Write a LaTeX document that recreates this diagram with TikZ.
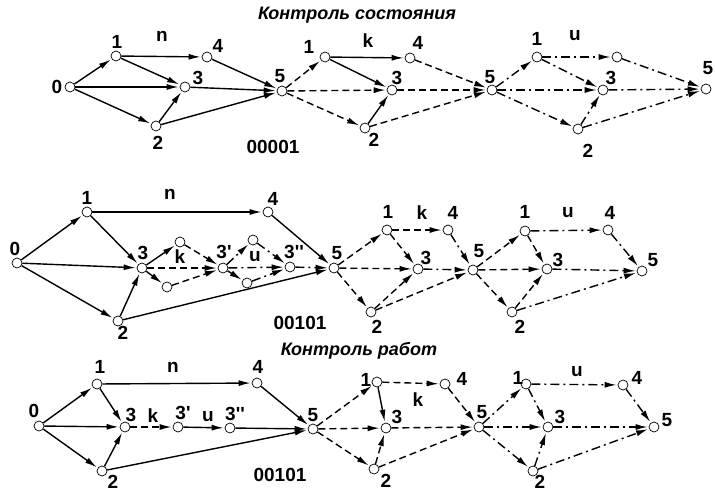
\documentclass[tikz,border=0pt]{standalone}
\usepackage{fontspec}
\setmainfont{Liberation Sans}
\usetikzlibrary{arrows.meta}
% straight prime mark, taken as a glyph so that no ligature mapping curls it
\newcommand{\pr}{\XeTeXglyph\XeTeXglyphindex "quotesingle" \relax}
\tikzset{
  nd/.style={circle,draw,fill=white,inner sep=0pt,minimum size=10pt,line width=0.7pt},
  lb/.style={font=\bfseries\fontsize{19}{19}\selectfont,inner sep=0pt},
  ttl/.style={font=\bfseries\itshape\fontsize{18}{18}\selectfont,inner sep=0pt},
  ed/.style={line width=1.4pt,-{Latex[length=12pt,width=6pt]},shorten >=1pt},
  ds/.style={ed,dash pattern=on 7pt off 4pt},
  dd/.style={ed,dash pattern=on 9pt off 4pt on 2pt off 4pt},
}
\begin{document}
\begin{tikzpicture}[x=1pt,y=-1pt]
\useasboundingbox (0,0) rectangle (715,493);

% ---------- titles ----------
\node[ttl] (t1) at (357,15) {Контроль состояния};
\node[ttl] (t2) at (359,351) {Контроль работ};

% ---------- row 1: state control ----------
\node[nd] (a0) at (70,87) {};
\node[nd] (a1) at (116,56) {};
\node[nd] (a4) at (207,57) {};
\node[nd] (a3) at (185,87) {};
\node[nd] (a2) at (156,126) {};
\node[nd] (a5) at (282,91) {};
\node[nd] (b1) at (325,57) {};
\node[nd] (b4) at (410,58) {};
\node[nd] (b3) at (392,90) {};
\node[nd] (b2) at (365,128) {};
\node[nd] (b5) at (492,90) {};
\node[nd] (c1) at (537,57) {};
\node[nd] (c4) at (617,57) {};
\node[nd] (c3) at (603,90) {};
\node[nd] (c2) at (578,129) {};
\node[nd] (c5) at (706,89) {};

\node[lb] (la0) at (57,87) {0};
\node[lb] (la1) at (117,42) {1};
\node[lb] (la4) at (218,46) {4};
\node[lb] (la3) at (198,78) {3};
\node[lb] (la2) at (158,143) {2};
\node[lb] (la5) at (280,76) {5};
\node[lb] (lan) at (162,36) {n};
\node[lb] (lac) at (273,147) {00001};
\node[lb] (lb1) at (309,47) {1};
\node[lb] (lb4) at (418,43) {4};
\node[lb] (lb3) at (397,78) {3};
\node[lb] (lb2) at (374,140) {2};
\node[lb] (lb5) at (490,77) {5};
\node[lb] (lbk) at (368,41) {k};
\node[lb] (lc1) at (537,39) {1};
\node[lb] (lc3) at (611,78) {3};
\node[lb] (lc2) at (588,151) {2};
\node[lb] (lc5) at (708,68) {5};
\node[lb] (lcu) at (575,36) {u};

\draw[ed] (a0)--(a1); \draw[ed] (a0)--(a3); \draw[ed] (a0)--(a2);
\draw[ed] (a1)--(a4); \draw[ed] (a1)--(a3); \draw[ed] (a2)--(a3);
\draw[ed] (a4)--(a5); \draw[ed] (a3)--(a5); \draw[ed] (a2)--(a5);
\draw[ds] (a5)--(b1); \draw[ds] (a5)--(b3); \draw[ds] (a5)--(b2);
\draw[ed] (b1)--(b4); \draw[ed] (b1)--(b3); \draw[ed] (b2)--(b3);
\draw[ds] (b4)--(b5); \draw[ds] (b3)--(b5); \draw[ds] (b2)--(b5);
\draw[dd] (b5)--(c1); \draw[dd] (b5)--(c3); \draw[dd] (b5)--(c2);
\draw[dd] (c1)--(c4); \draw[dd] (c1)--(c3); \draw[dd] (c2)--(c3);
\draw[dd] (c4)--(c5); \draw[dd] (c3)--(c5); \draw[dd] (c2)--(c5);

% ---------- row 2 ----------
\node[nd] (d0) at (17,263) {};
\node[nd] (d1) at (87,212) {};
\node[nd] (d4) at (268,212) {};
\node[nd] (d3) at (142,268) {};
\node[nd] (d2) at (118,321) {};
\node[nd] (d5) at (334,268) {};
\node[nd] (dx) at (180,242) {};
\node[nd] (dy) at (167,287) {};
\node[nd] (dp) at (223,268) {};
\node[nd] (dz) at (253,240) {};
\node[nd] (dw) at (247,283) {};
\node[nd] (dq) at (290,267) {};
\node[nd] (e1) at (387,230) {};
\node[nd] (e4) at (448,230) {};
\node[nd] (e3) at (418,269) {};
\node[nd] (e2) at (371,312) {};
\node[nd] (e5) at (473,270) {};
\node[nd] (f1) at (525,231) {};
\node[nd] (f4) at (608,230) {};
\node[nd] (f3) at (547,269) {};
\node[nd] (f2) at (512,312) {};
\node[nd] (f5) at (642,271) {};

\node[lb] (ld0) at (15,249) {0};
\node[lb] (ld1) at (87,198) {1};
\node[lb] (ld4) at (273,199) {4};
\node[lb] (ld3) at (143,253) {3};
\node[lb] (ld2) at (123,333) {2};
\node[lb] (ld5) at (337,253) {5};
\node[lb] (ldn) at (170,194) {n};
\node[lb] (ldp) at (224,252) {3\pr};
\node[lb] (ldk) at (180,257) {k};
\node[lb] (ldq) at (294,252) {3\pr\pr};
\node[lb] (ldu) at (255,257) {u};
\node[lb] (ldc) at (300,323) {00101};
\node[lb] (le1) at (388,212) {1};
\node[lb] (le4) at (453,213) {4};
\node[lb] (lek) at (422,213) {k};
\node[lb] (le3) at (426,258) {3};
\node[lb] (le2) at (377,327) {2};
\node[lb] (le5) at (479,251) {5};
\node[lb] (lf1) at (525,212) {1};
\node[lb] (lf4) at (610,213) {4};
\node[lb] (lfu) at (568,213) {u};
\node[lb] (lf3) at (558,260) {3};
\node[lb] (lf2) at (520,327) {2};
\node[lb] (lf5) at (653,260) {5};

\draw[ed] (d0)--(d1); \draw[ed] (d0)--(d3); \draw[ed] (d0)--(d2);
\draw[ed] (d1)--(d4); \draw[ed] (d1)--(d3); \draw[ed] (d2)--(d3);
\draw[ed] (d4)--(d5); \draw[ed] (d2)--(d5);
\draw[ed] (d3)--(dx); \draw[ed] (d3)--(dy);
\draw[ds] (dx)--(dp); \draw[ds] (dy)--(dp); \draw[ds] (d3)--(dp);
\draw[dd] (dp)--(dz); \draw[dd] (dp)--(dw);
\draw[dd] (dz)--(dq); \draw[dd] (dw)--(dq); \draw[dd] (dp)--(dq);
\draw[dd] (dq)--(d5);
\draw[ds] (d5)--(e1); \draw[ds] (d5)--(e3); \draw[ds] (d5)--(e2);
\draw[ds] (e1)--(e4); \draw[ds] (e1)--(e3); \draw[ds] (e2)--(e3);
\draw[dd] (e4)--(e5); \draw[dd] (e3)--(e5); \draw[ds] (e2)--(e5);
\draw[ds] (e5)--(f1); \draw[ds] (e5)--(f3); \draw[ds] (e5)--(f2);
\draw[ds] (f1)--(f3); \draw[ds] (f2)--(f3);
\draw[dd] (f1)--(f4); \draw[dd] (f4)--(f5); \draw[dd] (f3)--(f5); \draw[dd] (f2)--(f5);

% ---------- row 3: work control ----------
\node[nd] (g0) at (39,426) {};
\node[nd] (g1) at (97,384) {};
\node[nd] (g4) at (257,383) {};
\node[nd] (g3) at (125,427) {};
\node[nd] (g2) at (102,471) {};
\node[nd] (gp) at (178,427) {};
\node[nd] (gq) at (230,428) {};
\node[nd] (g5) at (313,429) {};
\node[nd] (h1) at (377,382) {};
\node[nd] (h4) at (445,384) {};
\node[nd] (h3) at (386,428) {};
\node[nd] (h2) at (374,469) {};
\node[nd] (h5) at (479,427) {};
\node[nd] (i1) at (526,384) {};
\node[nd] (i4) at (623,385) {};
\node[nd] (i3) at (548,427) {};
\node[nd] (i2) at (533,471) {};
\node[nd] (i5) at (654,427) {};

\node[lb] (lg0) at (34,411) {0};
\node[lb] (lg1) at (100,367) {1};
\node[lb] (lg4) at (258,367) {4};
\node[lb] (lgn) at (173,367) {n};
\node[lb] (lg3) at (131,415) {3};
\node[lb] (lg2) at (113,482) {2};
\node[lb] (lgk) at (153,416) {k};
\node[lb] (lgp) at (183,413) {3\pr};
\node[lb] (lgu) at (208,417) {u};
\node[lb] (lgq) at (235,414) {3\pr\pr};
\node[lb] (lg5) at (313,415) {5};
\node[lb] (lgc) at (280,475) {00101};
\node[lb] (lh1) at (366,380) {1};
\node[lb] (lh4) at (462,379) {4};
\node[lb] (lhk) at (418,400) {k};
\node[lb] (lh3) at (397,417) {3};
\node[lb] (lh2) at (386,481) {2};
\node[lb] (lh5) at (482,412) {5};
\node[lb] (li1) at (518,378) {1};
\node[lb] (li4) at (637,378) {4};
\node[lb] (liu) at (577,372) {u};
\node[lb] (li3) at (560,417) {3};
\node[lb] (li2) at (540,482) {2};
\node[lb] (li5) at (667,420) {5};

\draw[ed] (g0)--(g1); \draw[ed] (g0)--(g3); \draw[ed] (g0)--(g2);
\draw[ed] (g1)--(g4); \draw[ed] (g1)--(g3); \draw[ed] (g2)--(g3);
\draw[ds] (g3)--(gp); \draw[ed] (gp)--(gq); \draw[ed] (gq)--(g5);
\draw[ed] (g4)--(g5); \draw[ed] (g2)--(g5);
\draw[ds] (g5)--(h1); \draw[ds] (g5)--(h3); \draw[ds] (g5)--(h2);
\draw[ds] (h1)--(h4); \draw[ed] (h1)--(h3); \draw[ds] (h2)--(h3);
\draw[ds] (h4)--(h5); \draw[ds] (h3)--(h5); \draw[ds] (h2)--(h5);
\draw[dd] (h5)--(i1); \draw[dd] (h5)--(i3); \draw[dd] (h5)--(i2);
\draw[dd] (i1)--(i4); \draw[dd] (i1)--(i3); \draw[dd] (i2)--(i3);
\draw[dd] (i4)--(i5); \draw[dd] (i3)--(i5); \draw[dd] (i2)--(i5);
\end{tikzpicture}
\end{document}
